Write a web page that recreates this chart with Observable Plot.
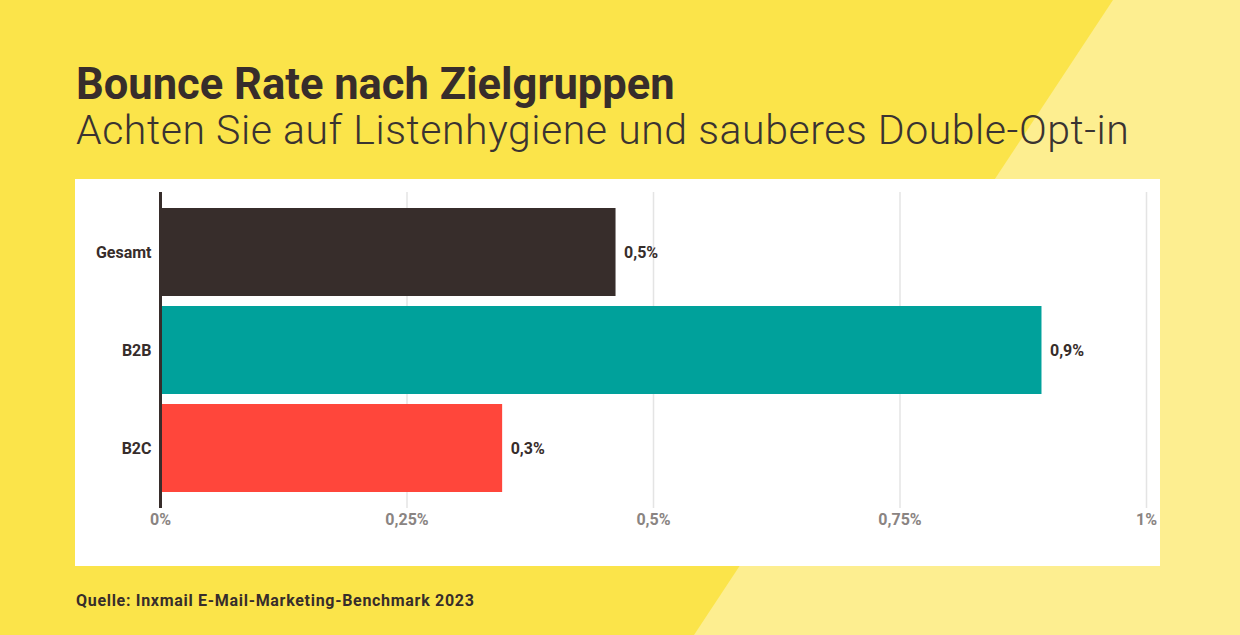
<!DOCTYPE html>
<html>
<head>
<meta charset="utf-8">
<script src="https://cdn.jsdelivr.net/npm/d3@7"></script>
<script src="https://cdn.jsdelivr.net/npm/@observablehq/plot@0.6"></script>
<style>
  html, body { margin: 0; padding: 0; }
  body {
    width: 1240px; height: 635px; overflow: hidden; position: relative;
    background: #fbe44a;
    font-family: Roboto, "DejaVu Sans", sans-serif;
    color: #372d2b;
  }
  #light {
    position: absolute; left: 0; top: 0; width: 1240px; height: 635px;
    background: #fdee90;
    clip-path: polygon(1113px 0, 1240px 0, 1240px 635px, 694px 635px);
  }
  .txt { position: absolute; white-space: nowrap; line-height: 1; }
  #title { left: 76px; top: 63px; font-size: 43.5px; font-weight: 700; }
  #subtitle { left: 76px; top: 109.5px; font-size: 41px; font-weight: 300; letter-spacing: 0.55px; color: #3a3331; }
  #caption { left: 76px; top: 592.5px; font-size: 16px; font-weight: 700; letter-spacing: 0.7px; }
  #panel { position: absolute; left: 75px; top: 179px; width: 1085px; height: 387px; background: #ffffff; }
  #panel svg { display: block; }
</style>
</head>
<body>
<div id="light"></div>
<div class="txt" id="title">Bounce Rate nach Zielgruppen</div>
<div class="txt" id="subtitle">Achten Sie auf Listenhygiene und sauberes Double-Opt-in</div>
<div id="panel"></div>
<div class="txt" id="caption">Quelle: Inxmail E-Mail-Marketing-Benchmark 2023</div>
<script>
const categories = ["Gesamt", "B2B", "B2C"];
const values = [0.462, 0.894, 0.347];
const valueLabels = ["0,5%", "0,9%", "0,3%"];
const barColors = ["#372d2b", "#00a19b", "#ff463b"];
const xTicks = [0, 0.25, 0.5, 0.75, 1];
const xTickLabels = ["0%", "0,25%", "0,5%", "0,75%", "1%"];

const data = categories.map((c, i) => ({
  category: c, value: values[i], label: valueLabels[i], color: barColors[i]
}));

const chart = Plot.plot({
  width: 1085,
  height: 387,
  marginLeft: 85,
  marginRight: 14,
  marginTop: 18,
  marginBottom: 63,
  style: { background: "transparent", fontFamily: "Roboto, sans-serif", fontSize: "16px", fontWeight: "700" },
  x: { domain: [0, 1], label: null },
  y: { domain: categories, padding: 0.1, label: null },
  color: { type: "identity" },
  marks: [
    Plot.gridX(xTicks, { stroke: "#e4e4e4", strokeOpacity: 1, strokeWidth: 1.5, insetTop: -5, insetBottom: -5 }),
    Plot.barX(data, { x: "value", y: "category", fill: "color" }),
    Plot.ruleX([0], { stroke: "#372d2b", strokeWidth: 3, insetTop: -5, insetBottom: -5 }),
    Plot.text(data, { x: "value", y: "category", text: "label", textAnchor: "start", dx: 8, fill: "#372d2b", fontSize: 16, fontWeight: 700 }),
    Plot.axisX(xTicks, { tickSize: 0, tickPadding: 10, label: null, color: "#8a8482", fontSize: 16,
      tickFormat: d => xTickLabels[xTicks.indexOf(d)] }),
    Plot.axisY({ tickSize: 0, tickPadding: 9, label: null, color: "#372d2b", fontSize: 16 })
  ]
});
document.getElementById("panel").appendChild(chart);
</script>
</body>
</html>
